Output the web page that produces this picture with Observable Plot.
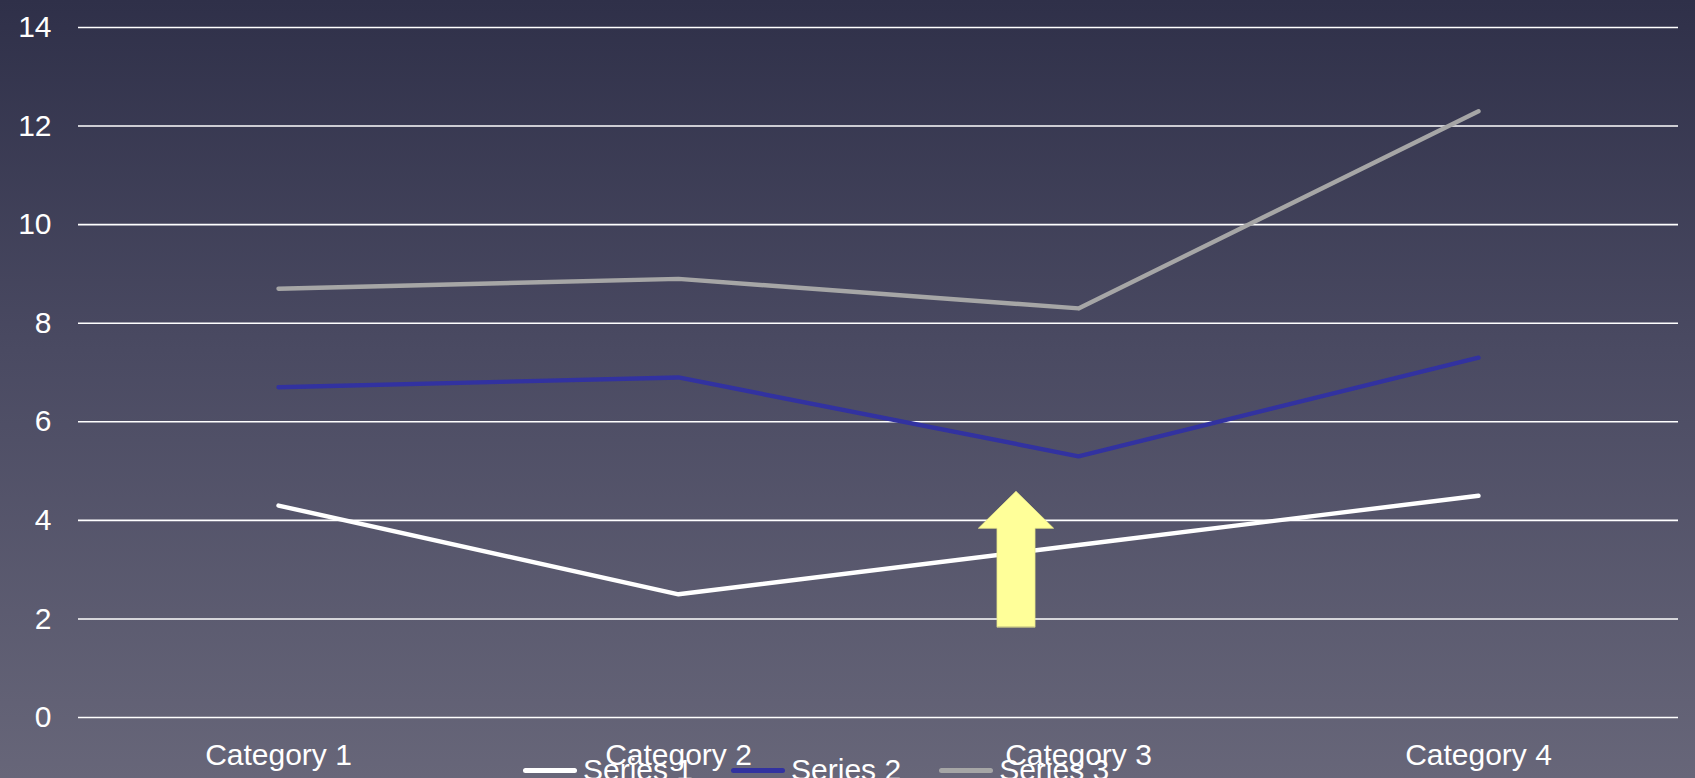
<!DOCTYPE html>
<html>
<head>
<meta charset="utf-8">
<script src="https://cdn.jsdelivr.net/npm/d3@7"></script>
<script src="https://cdn.jsdelivr.net/npm/@observablehq/plot@0.6"></script>
<style>
  html, body { margin: 0; padding: 0; }
  body {
    width: 1695px; height: 778px; overflow: hidden; position: relative;
    background: linear-gradient(to bottom, #2f3049 0%, #4a4a62 45%, #676679 100%);
    font-family: "Liberation Sans", Arial, sans-serif;
  }
  #chart svg { background: transparent; display: block; }
  #legend {
    position: absolute; left: 523px; top: 753px; display: flex; align-items: center;
    color: #fff; font-size: 30px; font-family: "Liberation Sans", Arial, sans-serif; white-space: nowrap;
  }
  #legend .item { display: flex; align-items: center; margin-right: 38px; }
  #legend .sw { width: 54px; height: 5px; border-radius: 3px; margin-right: 6px; }
</style>
</head>
<body>
<div id="chart"></div>
<div id="legend"></div>
<script>
// ---- data ----
const categories = ["Category 1", "Category 2", "Category 3", "Category 4"];
const seriesNames = ["Series 1", "Series 2", "Series 3"];
const series1 = [4.3, 2.5, 3.5, 4.5];
const series2 = [2.4, 4.4, 1.8, 2.8];
const series3 = [2, 2, 3, 5];
const seriesColors = ["#ffffff", "#3232a0", "#a6a6a6"];
const yTicks = [0, 2, 4, 6, 8, 10, 12, 14];

// annotation arrow (data units: x = category index, y = value)
const arrowX = 1.845, arrowBase = 1.83, arrowNeck = 3.83, arrowTip = 4.58;
const shaftHalf = 0.0475, headHalf = 0.094;

// ---- build table ----
const rows = [];
[series1, series2, series3].forEach((vals, s) => {
  vals.forEach((v, i) => rows.push({ series: seriesNames[s], i, value: v }));
});

const arrowPts = [
  { y: arrowBase, x1: arrowX - shaftHalf, x2: arrowX + shaftHalf },
  { y: arrowNeck, x1: arrowX - shaftHalf, x2: arrowX + shaftHalf },
  { y: arrowNeck, x1: arrowX - headHalf, x2: arrowX + headHalf },
  { y: arrowTip, x1: arrowX, x2: arrowX }
];

const chart = Plot.plot({
  width: 1695,
  height: 778,
  marginLeft: 78,
  marginRight: 17,
  marginTop: 27,
  marginBottom: 61,
  style: { background: "transparent", color: "#fff", fontSize: "30px", fontFamily: "'Liberation Sans', Arial, sans-serif" },
  x: { type: "linear", domain: [-0.5, 3.5], ticks: [0, 1, 2, 3], tickFormat: d => categories[d], tickSize: 0, tickPadding: 26, label: null },
  y: { domain: [0, 14], ticks: yTicks, tickSize: 0, tickPadding: 27, label: null },
  color: { domain: seriesNames, range: seriesColors },
  marks: [
    Plot.ruleY(yTicks, { stroke: "#ffffff", strokeWidth: 1.6 }),
    Plot.lineY(rows, Plot.stackY2({ x: "i", y: "value", z: "series", stroke: "series", strokeWidth: 4.4, strokeLinecap: "round", strokeLinejoin: "round", order: seriesNames })),
    Plot.areaX(arrowPts, { y: "y", x1: "x1", x2: "x2", fill: "#ffff99", stroke: "#e8e88a", strokeWidth: 0.8, curve: "linear" })
  ]
});
document.getElementById("chart").appendChild(chart);

// legend
const leg = document.getElementById("legend");
seriesNames.forEach((n, k) => {
  const it = document.createElement("div");
  it.className = "item";
  it.innerHTML = `<span class="sw" style="background:${seriesColors[k]}"></span><span>${n}</span>`;
  leg.appendChild(it);
});
</script>
</body>
</html>
